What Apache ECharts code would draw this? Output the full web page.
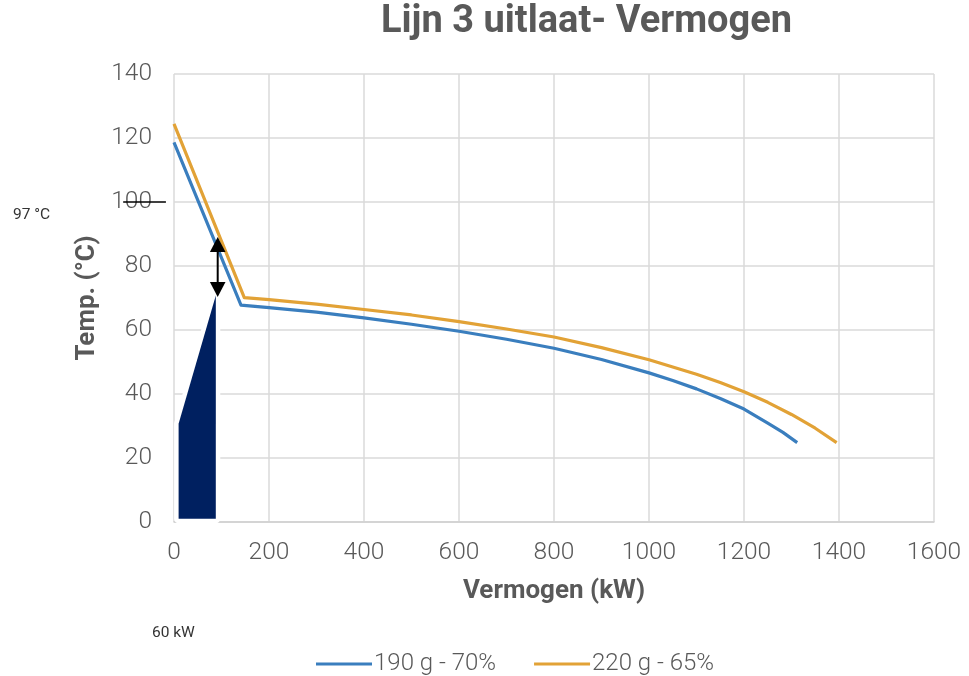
<!DOCTYPE html>
<html>
<head>
<meta charset="utf-8">
<script src="https://cdn.jsdelivr.net/npm/echarts@6/dist/echarts.min.js"></script>
<style>
html,body{margin:0;padding:0;background:#fff;}
#main{width:969px;height:676px;}
</style>
</head>
<body>
<div id="main"></div>
<script>
// ---- data ----
const titleText = 'Lijn 3 uitlaat- Vermogen';
const xAxisName = 'Vermogen (kW)';
const yAxisName = 'Temp. (°C)';
const seriesNames = ['190 g - 70%', '220 g - 65%'];

const x190 = [0, 141, 200, 300, 400, 500, 600, 700, 800, 900, 1000, 1050, 1100, 1150, 1200, 1250, 1282, 1312];
const y190 = [118.6, 67.8, 67.0, 65.6, 63.8, 61.8, 59.6, 57.1, 54.3, 50.8, 46.6, 44.2, 41.6, 38.6, 35.3, 30.9, 28.0, 24.8];

const x220 = [0, 148, 200, 300, 400, 500, 600, 700, 800, 900, 1000, 1100, 1150, 1200, 1250, 1300, 1350, 1395];
const y220 = [124.4, 70.1, 69.5, 68.1, 66.4, 64.7, 62.6, 60.3, 57.8, 54.5, 50.7, 46.2, 43.6, 40.7, 37.4, 33.6, 29.3, 24.8];

// annotation shapes (data coordinates)
const polyX = [9.7, 9.7, 88, 88];
const polyY = [1, 30.7, 70.8, 1];
const arrowX = 92;
const arrowY = [89.1, 70.3];
const refLineX = [-107, -17];
const refLineY = 100;
const noteTemp = '97 °C';
const notePower = '60 kW';

const blue = '#3A7EBE';
const orange = '#E2A236';
const gray = '#595959';

function pairs(xs, ys){ return xs.map((x,i)=>[x, ys[i]]); }

const chart = echarts.init(document.getElementById('main'));
chart.setOption({
  animation: false,
  backgroundColor: '#fff',
  title: {
    text: titleText, left: 381, top: 3, padding: 0,
    textStyle: { fontFamily: 'Roboto', fontWeight: 'bold', fontSize: 38, color: gray }
  },
  grid: { left: 174, right: 35, top: 74, bottom: 154, containLabel: false },
  legend: {
    data: seriesNames, left: 311, top: 647, itemGap: 38,
    icon: 'rect', itemWidth: 56, itemHeight: 3,
    textStyle: { fontFamily: 'Roboto', fontWeight: 300, fontSize: 24, color: gray, padding: [0,0,0,-3] }
  },
  xAxis: {
    type: 'value', min: 0, max: 1600, interval: 200,
    name: xAxisName, nameLocation: 'middle', nameGap: 56,
    nameTextStyle: { fontFamily: 'Roboto', fontWeight: 'bold', fontSize: 26, color: gray },
    axisLine: { show: true, lineStyle: { color: '#CFCFCF', width: 1.5 } },
    axisTick: { show: false },
    axisLabel: { margin: 18, fontFamily: 'Roboto', fontWeight: 300, fontSize: 24.5, color: gray,
      formatter: function (v) { return String(v); } },
    splitLine: { show: true, lineStyle: { color: '#DADADA', width: 1.5 } }
  },
  yAxis: {
    type: 'value', min: 0, max: 140, interval: 20,
    name: yAxisName, nameLocation: 'middle', nameGap: 72, nameRotate: 90,
    nameTextStyle: { fontFamily: 'Roboto', fontWeight: 'bold', fontSize: 26, color: gray },
    axisLine: { show: false },
    axisTick: { show: false },
    axisLabel: { margin: 22, fontFamily: 'Roboto', fontWeight: 300, fontSize: 24.5, color: gray },
    splitLine: { show: true, lineStyle: { color: '#DADADA', width: 1.5 } }
  },
  graphic: [
    { type: 'text', left: 13, top: 207, style: { text: noteTemp, fontFamily: 'Roboto', fontSize: 15.5, fill: '#333' } },
    { type: 'text', left: 152, top: 625, style: { text: notePower, fontFamily: 'Roboto', fontSize: 15.5, fill: '#333' } }
  ],
  series: [
    {
      name: seriesNames[0], type: 'line', data: pairs(x190, y190),
      showSymbol: false, symbol: 'none', smooth: false, z: 3,
      lineStyle: { color: blue, width: 3.2, join: 'round' }, itemStyle: { color: blue }
    },
    {
      name: seriesNames[1], type: 'line', data: pairs(x220, y220),
      showSymbol: false, symbol: 'none', smooth: false, z: 3,
      lineStyle: { color: orange, width: 3.2, join: 'round' }, itemStyle: { color: orange }
    },
    {
      name: 'poly', type: 'custom', data: [[0, 0]], z: 4, silent: true,
      renderItem: function (params, api) {
        const pts = polyX.map((x, i) => api.coord([x, polyY[i]]));
        return {
          type: 'polygon',
          shape: { points: pts },
          style: { fill: '#002060', stroke: '#fff', lineWidth: 9, lineJoin: 'round', strokeFirst: true }
        };
      }
    },
    {
      name: 'annot', type: 'custom', data: [[0, 0]], z: 5, silent: true, clip: false,
      renderItem: function (params, api) {
        const top = api.coord([arrowX, arrowY[0]]);
        const bot = api.coord([arrowX, arrowY[1]]);
        const hw = 7.8, hh = 15;
        const r1 = api.coord([refLineX[0], refLineY]);
        const r2 = api.coord([refLineX[1], refLineY]);
        return {
          type: 'group',
          children: [
            { type: 'line', shape: { x1: top[0], y1: top[1] + hh - 1, x2: bot[0], y2: bot[1] - hh + 1 },
              style: { stroke: '#000', lineWidth: 2 } },
            { type: 'polygon', shape: { points: [[top[0], top[1]], [top[0] - hw, top[1] + hh], [top[0] + hw, top[1] + hh]] },
              style: { fill: '#000' } },
            { type: 'polygon', shape: { points: [[bot[0], bot[1]], [bot[0] - hw, bot[1] - hh], [bot[0] + hw, bot[1] - hh]] },
              style: { fill: '#000' } },
            { type: 'line', shape: { x1: r1[0], y1: r1[1], x2: r2[0], y2: r2[1] },
              style: { stroke: '#000', lineWidth: 1.5 } }
          ]
        };
      }
    }
  ]
});
</script>
</body>
</html>
